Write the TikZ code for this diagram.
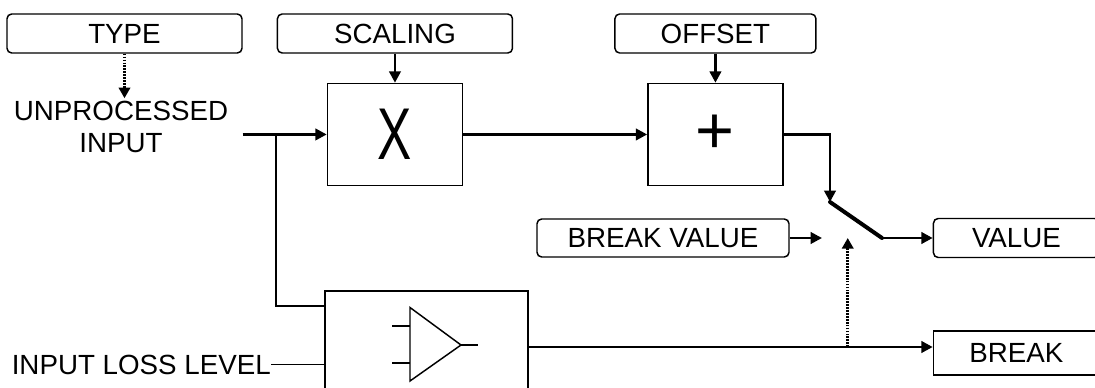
\documentclass[tikz,border=0pt]{standalone}
\usepackage{fontspec}
\setmainfont{Liberation Sans}
\usepackage{graphicx}
\usetikzlibrary{arrows.meta, positioning, calc}

\newcommand{\lbl}{\fontsize{20.8}{24}\selectfont}

\tikzset{
  param/.style={draw, rounded corners=3.5pt, line width=1.1pt,
                minimum height=29.25pt, inner sep=0pt, font=\lbl},
  block/.style={draw, line width=1.1pt, minimum width=101.25pt,
                minimum height=76.5pt, inner sep=0pt},
  sig/.style={line width=2.1pt, -{Triangle[length=8.5pt,width=8.5pt]}},
  wire/.style={line width=1.3pt},
  dots/.style={line width=2.1pt, dash pattern=on 1.3pt off 0.9pt,
               -{Triangle[length=8pt,width=8.5pt]}},
  blade/.style={line width=3pt, line cap=round}
}

\begin{document}
\begin{tikzpicture}[x=0.75pt, y=-0.75pt]
  \useasboundingbox (0,0) rectangle (1095,388);

  % parameter boxes along the top
  \node[param, minimum width=176.25pt] (type) at (124.5,33.5) {TYPE};
  \node[param, minimum width=176.25pt, right=25.5pt of type] (scaling) {SCALING};
  \node[param, minimum width=150.75pt, right=75.75pt of scaling] (offset) {OFFSET};

  % processing blocks
  \node[block, below=21.75pt of scaling] (mult)
    {\fontsize{55}{60}\selectfont\scalebox{0.7}[1]{X}};
  \node[block, below=21.75pt of offset] (add)
    {\fontsize{50}{56}\selectfont +};

  \node[font=\lbl, align=center, inner sep=2pt] (unproc) at (121,127)
    {UNPROCESSED\\INPUT};

  % comparator
  \node[draw, line width=1.1pt, minimum width=152.25pt, minimum height=84pt]
    (comp) at (426.5,347) {};
  \begin{scope}[shift={(comp.center)}, line width=1.1pt]
    \draw (-16.5,-39.5) -- (34.5,-2) -- (-16.5,34) -- cycle;
    \draw (-34.5,-21) -- (-16.5,-21);
    \draw (-34.5,16) -- (-16.5,16);
    \draw (34.5,-2) -- (51.5,-2);
  \end{scope}
  \node[font=\lbl, anchor=east, inner sep=0pt] (loss) at (271,364.5)
    {INPUT LOSS LEVEL};

  % outputs
  \node[param, minimum width=189pt, minimum height=28.5pt] (brkval) at (663,238)
    {BREAK VALUE};
  \node[param, minimum width=124.5pt, right=107.25pt of brkval] (value) {VALUE};
  \node[draw, line width=1.1pt, minimum width=124.5pt, minimum height=33pt,
        font=\lbl, below=54pt of value] (brk) {BREAK};

  \coordinate (in) at ([xshift=-63pt]mult.west);
  \coordinate (jn) at ([xshift=-38.25pt]mult.west);
  \coordinate (swin) at (830,202);
  \coordinate (swout) at (882,238);
  \coordinate (swlow) at (822,238);
  \coordinate (tap) at ([xshift=239.25pt]comp.east);

  \draw[dots] (type.south) -- (type.south |- unproc.north);
  \draw[sig] (scaling) -- (mult);
  \draw[sig] (offset) -- (add);
  \draw[sig] (in) -- (mult);
  \draw[sig] (mult) -- (add);
  \draw[wire] (jn) |- ([yshift=-12pt]comp.north west);
  \draw[wire] (loss.east) -- (loss.east -| comp.west);
  \draw[sig] (comp.east) -- (comp.east -| brk.west);

  % switch
  \draw[sig] (add) -| (swin);
  \draw[blade] (swin) -- (swout);
  \draw[sig] (swout) -- (swout -| value.west);
  \draw[sig] (brkval) -- (swlow);
  \draw[dots] (tap) -- (tap |- swout);
\end{tikzpicture}
\end{document}
